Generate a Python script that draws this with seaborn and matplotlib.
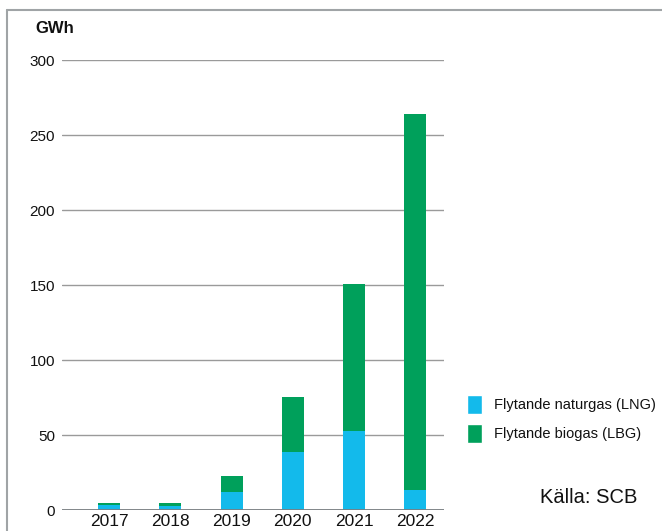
import pandas as pd
import matplotlib.pyplot as plt
import seaborn as sns
from matplotlib.patches import Patch
from matplotlib.lines import Line2D

sns.set_style("white")
plt.rcParams['font.family'] = ['Liberation Sans', 'DejaVu Sans']
plt.rcParams['text.color'] = '#111111'
plt.rcParams['xtick.color'] = '#111111'
plt.rcParams['ytick.color'] = '#111111'

# values (GWh)
years = ["2017", "2018", "2019", "2020", "2021", "2022"]
lng = [3.3, 2.7, 12.0, 38.5, 52.5, 13.5]
lbg = [1.6, 1.8, 11.0, 37.0, 98.5, 250.5]

c_lng = "#13BAEB"
c_lbg = "#00A05B"

df = pd.DataFrame({"År": years, "LNG": lng, "LBG": lbg})
df["Totalt"] = df["LNG"] + df["LBG"]

fig = plt.figure(figsize=(6.62, 5.31), dpi=100)
ax = fig.add_axes([0.0937, 0.0395, 0.577, 0.8475])

# stacked bars: total (green) underneath, LNG drawn on top
sns.barplot(data=df, x="År", y="Totalt", color=c_lbg, width=0.36,
            saturation=1, linewidth=0, ax=ax, zorder=3)
sns.barplot(data=df, x="År", y="LNG", color=c_lng, width=0.36,
            saturation=1, linewidth=0, ax=ax, zorder=4)

ax.set_ylim(0, 300)
ax.set_xlim(-0.77, 5.47)
ax.set_yticks([0, 50, 100, 150, 200, 250, 300])
ax.grid(axis="y", color="#9a9a9a", linewidth=1, zorder=0)
ax.axhline(0, color="#7a7f82", linewidth=1.3, zorder=5)
for s in ax.spines.values():
    s.set_visible(False)
ax.tick_params(axis="y", length=0, pad=5, labelsize=11)
ax.tick_params(axis="x", length=0, pad=3, labelsize=12.5)
ax.set_xlabel("")
ax.set_ylabel("")

fig.text(0.053, 0.947, "GWh", fontsize=12, fontweight="bold", va="center")

# outer frame (top and left visible)
fig.add_artist(Line2D([0.010, 1.0], [0.981, 0.981], color="#a0a4a6",
                      linewidth=1.5, transform=fig.transFigure))
fig.add_artist(Line2D([0.010, 0.010], [0.0, 0.981], color="#a0a4a6",
                      linewidth=1.5, transform=fig.transFigure))

handles = [Patch(facecolor=c_lng, label="Flytande naturgas (LNG)"),
           Patch(facecolor=c_lbg, label="Flytande biogas (LBG)")]
fig.legend(handles=handles, loc="upper left", bbox_to_anchor=(0.706, 0.257),
           frameon=False, fontsize=10.5, handlelength=1.0, handleheight=1.7,
           handletextpad=0.8, labelspacing=0.65, borderpad=0, borderaxespad=0)

fig.text(0.815, 0.064, "Källa: SCB", fontsize=14.5, va="center")

plt.savefig("out.png", dpi=100)
